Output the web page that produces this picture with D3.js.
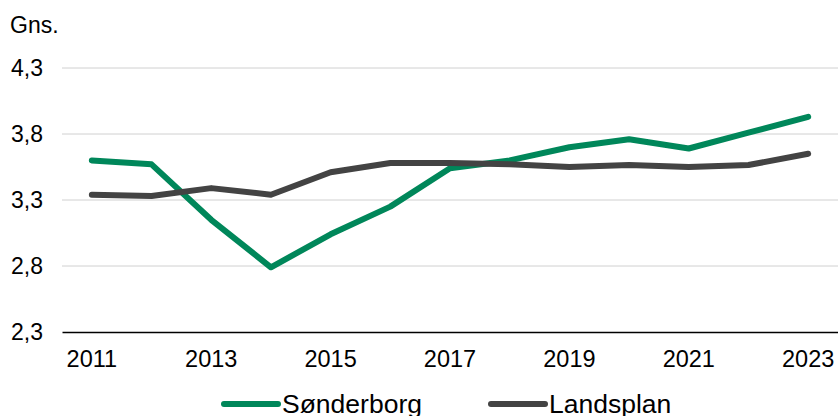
<!doctype html>
<html lang="da">
<head>
<meta charset="utf-8">
<title>Gns. Sønderborg vs Landsplan</title>
<script src="https://cdn.jsdelivr.net/npm/d3@7"></script>
<style>
  html, body { margin: 0; padding: 0; background: #fff; }
  svg { display: block; font-family: "Liberation Sans", Arial, sans-serif; }
</style>
</head>
<body>
<svg id="chart" width="838" height="416"></svg>
<script>
  // data
  var years = [2011, 2012, 2013, 2014, 2015, 2016, 2017, 2018, 2019, 2020, 2021, 2022, 2023];
  var sonderborg = [3.60, 3.57, 3.15, 2.79, 3.04, 3.25, 3.54, 3.60, 3.70, 3.76, 3.69, 3.81, 3.93];
  var landsplan = [3.34, 3.33, 3.39, 3.34, 3.51, 3.58, 3.58, 3.57, 3.55, 3.565, 3.55, 3.565, 3.65];
  var yTicks = [2.3, 2.8, 3.3, 3.8, 4.3];
  var xTickYears = [2011, 2013, 2015, 2017, 2019, 2021, 2023];
  var seriesNames = ["Sønderborg", "Landsplan"];
  var seriesColors = ["#00875a", "#434343"];

  var svg = d3.select("#chart");
  var plotLeft = 62, plotRight = 838, plotTop = 68, plotBottom = 332;

  var x = d3.scaleBand().domain(years).range([plotLeft, plotRight]);
  var y = d3.scaleLinear().domain([2.3, 4.3]).range([plotBottom, plotTop]);
  var fmt = d => d3.format(".1f")(d).replace(".", ",");

  // gridlines
  svg.append("g").selectAll("line").data(yTicks.slice(1)).enter().append("line")
    .attr("x1", plotLeft).attr("x2", plotRight)
    .attr("y1", d => y(d)).attr("y2", d => y(d))
    .attr("stroke", "#d0d0d0").attr("stroke-width", 1);

  // y axis labels
  var yAxis = svg.append("g").attr("transform", `translate(${plotLeft},0)`)
    .call(d3.axisLeft(y).tickValues(yTicks).tickFormat(fmt).tickSize(0).tickPadding(19));
  yAxis.select(".domain").remove();
  yAxis.selectAll("text").attr("font-size", 23).attr("fill", "#000").attr("font-family", null);

  // x axis
  var xAxis = svg.append("g").attr("transform", `translate(0,${plotBottom})`)
    .call(d3.axisBottom(x).tickValues(xTickYears).tickSize(0).tickPadding(18));
  xAxis.select(".domain").attr("stroke", "#000").attr("stroke-width", 1.5);
  xAxis.selectAll("text").attr("font-size", 23.5).attr("fill", "#000").attr("font-family", null);

  svg.append("text").attr("x", 10).attr("y", 33).attr("font-size", 23).text("Gns.");

  var line = d3.line()
    .x((d, i) => x(years[i]) + x.bandwidth() / 2)
    .y(d => y(d));

  [sonderborg, landsplan].forEach(function (vals, k) {
    svg.append("path").datum(vals)
      .attr("d", line)
      .attr("fill", "none")
      .attr("stroke", seriesColors[k])
      .attr("stroke-width", 6)
      .attr("stroke-linejoin", "round")
      .attr("stroke-linecap", "round");
  });

  // legend
  var legendX = [224, 491];
  var leg = svg.append("g").selectAll("g").data(seriesNames).enter().append("g")
    .attr("transform", (d, i) => `translate(${legendX[i]},404)`);
  leg.append("line").attr("x1", 0).attr("x2", 54).attr("y1", 0).attr("y2", 0)
    .attr("stroke", (d, i) => seriesColors[i]).attr("stroke-width", 6).attr("stroke-linecap", "round");
  leg.append("text").attr("x", 58).attr("y", 9).attr("font-size", 26.5).text(d => d);
</script>
</body>
</html>
